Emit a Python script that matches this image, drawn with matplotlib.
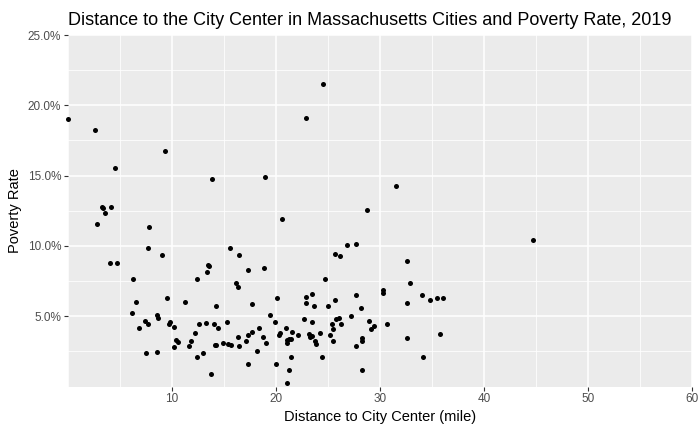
import matplotlib
matplotlib.use("Agg")
import numpy as np
from matplotlib import pyplot as plt
from matplotlib.ticker import FixedLocator, FuncFormatter

# distance to city center (mile) and poverty rate (%)
distance = [
    0.0, 2.6, 9.3, 4.5, 13.8, 3.26, 3.39, 4.12, 3.55, 2.78, 7.77, 7.67, 15.6,
    4.0, 4.7, 9.0, 6.23, 6.52, 6.14, 7.38, 7.67, 6.81, 7.48, 8.53, 9.49, 8.53,
    8.63, 9.68, 9.82, 10.16, 10.35, 10.58, 10.16, 11.22, 11.6, 11.8, 12.18,
    12.37, 12.56, 12.37, 12.94, 13.23, 13.33, 13.42, 13.52, 13.71, 14.07, 14.2,
    14.38, 14.1, 14.23, 14.86, 15.25, 15.34, 15.63, 16.49, 17.26, 16.2, 16.3,
    17.74, 16.3, 17.35, 17.74, 18.4, 16.4, 17.16, 18.2, 17.26,
    24.54, 22.91, 18.98, 31.54, 20.61, 28.76, 26.85, 27.71,
    18.89, 20.14, 19.46, 19.94, 18.79, 19.08, 20.04, 20.33, 20.42, 21.0, 21.57,
    21.09, 21.09, 21.28, 21.47, 22.15, 21.47, 21.28, 21.09, 22.72, 22.91, 22.91,
    23.49, 23.68, 23.49, 23.2, 23.3, 23.49, 23.78, 23.87, 24.26, 24.45, 24.74,
    25.03, 25.22, 25.41, 25.5, 25.5, 25.7, 25.7, 26.17, 25.79, 26.08, 26.27,
    27.23, 27.71, 28.19, 27.71, 28.28, 28.28, 28.28, 28.95, 29.15, 29.43, 30.3,
    30.3, 30.68, 32.6, 32.89, 32.6, 32.6, 34.04, 34.8, 35.47, 36.05, 34.13,
    35.76, 44.7,
]
poverty = [
    19.0, 18.24, 16.75, 15.55, 14.77, 12.78, 12.71, 12.78, 12.35, 11.57, 11.36,
    9.84, 9.84,
    8.81, 8.81, 9.37, 7.67, 6.04, 5.26, 4.69, 4.41, 4.13, 2.35, 2.43, 6.33, 5.05,
    4.84, 4.48, 4.62, 4.2, 3.28, 3.13, 2.78, 6.04, 2.85, 3.21, 3.77,
    7.67, 4.41, 2.07, 2.35, 4.55, 8.17, 8.67, 8.6, 0.87, 4.48, 5.76,
    4.13, 2.92, 2.92, 3.06, 4.62, 2.99, 2.92, 9.37, 8.31, 7.39, 7.1,
    5.9, 3.55, 3.63, 3.91, 4.13, 2.85, 3.21, 2.5, 1.57,
    21.5, 19.09, 14.91, 14.27, 11.93, 12.57, 10.09, 10.16,
    8.45, 6.26, 5.12, 4.62, 3.49, 3.06, 1.57, 3.63, 3.84, 4.13, 3.91,
    3.28, 3.06, 3.35, 3.35, 3.63, 2.07, 1.15, 0.23, 4.77, 5.97, 6.4,
    6.61, 5.69, 4.62, 3.7, 3.49, 3.56, 3.21, 2.99, 3.84, 2.07, 7.67,
    5.69, 3.63, 4.48, 4.06, 3.21, 6.18, 9.45, 9.3, 4.77, 4.84, 4.41,
    4.98, 6.54, 5.55, 2.85, 3.42, 3.21, 1.15, 4.69, 4.06, 4.27, 6.83,
    6.68, 4.41, 8.95, 7.39, 5.97, 3.42, 6.54, 6.18, 6.33, 6.26, 2.07,
    3.7, 10.44,
]

x_major = [10, 20, 30, 40, 50, 60]
x_minor = [0, 5, 15, 25, 35, 45, 55]
y_major = [5, 10, 15, 20, 25]
y_minor = [2.5, 7.5, 12.5, 17.5, 22.5]

plt.rcParams['font.family'] = ['Liberation Sans', 'DejaVu Sans']

fig = plt.figure(figsize=(7, 4.32), dpi=100)
# panel box in pixels: left 68, right 692, top 35, bottom 386.5
ax = fig.add_axes([68 / 700, 1 - 386.5 / 432, 624 / 700, 351.5 / 432])
ax.set_facecolor('#EBEBEB')
for s in ax.spines.values():
    s.set_visible(False)

ax.set_xlim(0, 60)
ax.set_ylim(0, 25)
ax.xaxis.set_major_locator(FixedLocator(x_major))
ax.xaxis.set_minor_locator(FixedLocator(x_minor))
ax.yaxis.set_major_locator(FixedLocator(y_major))
ax.yaxis.set_minor_locator(FixedLocator(y_minor))
ax.yaxis.set_major_formatter(FuncFormatter(lambda v, p: f"{v:.1f}%"))

ax.grid(which='major', color='white', lw=1.1)
ax.grid(which='minor', color='white', lw=0.55)
ax.set_axisbelow(True)
ax.tick_params(which='major', length=3, width=0.8, color='#333333',
               labelcolor='#4D4D4D', labelsize=8.5, pad=2)
ax.tick_params(which='minor', length=0)

ax.scatter(distance, poverty, s=13, color='black', lw=0, zorder=3, clip_on=False)

ax.set_xlabel("Distance to City Center (mile)", fontsize=10.5, labelpad=3)
ax.set_ylabel("Poverty Rate", fontsize=10.5, labelpad=4)
ax.set_title("Distance to the City Center in Massachusetts Cities and Poverty Rate, 2019",
             fontsize=13, loc='left', pad=7)

fig.savefig("out.png", dpi=100)
